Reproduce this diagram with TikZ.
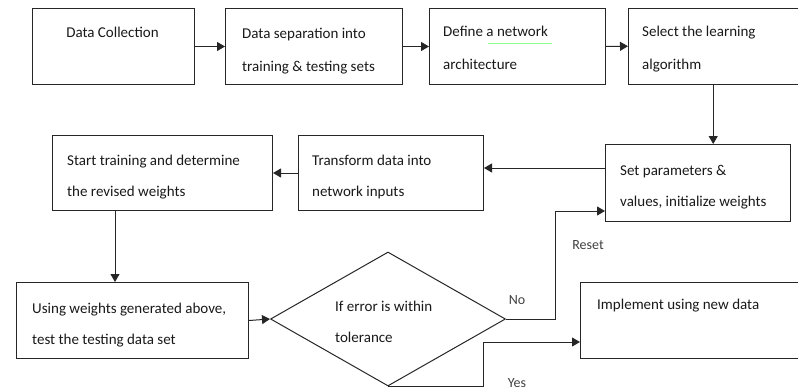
\documentclass[tikz,border=0pt]{standalone}
\usepackage{fontspec}
\setmainfont{Carlito}
\usetikzlibrary{arrows.meta,shapes.geometric}
\begin{document}
\begin{tikzpicture}[x=1pt,y=-1pt,
  box/.style={draw=black!85, line width=1pt, rectangle, inner sep=0pt, anchor=north west},
  openbox/.style={rectangle, inner sep=0pt, anchor=north west},
  edge/.style={draw=black!85, line width=1pt},
  arr/.style={edge, -{Triangle[length=8pt,width=9pt]}},
  txt/.style={anchor=base west, align=left, inner sep=0pt, text=black!90, font=\fontsize{15}{33}\selectfont},
  txtb/.style={txt, font=\fontsize{15}{31}\selectfont},
  lbl/.style={inner sep=0pt, text=black!75, font=\fontsize{14}{16}\selectfont}
]
\useasboundingbox (0,0) rectangle (798,391);

% boxes
\node[box, minimum width=162pt, minimum height=76pt] (b1) at (32,8) {};
\node[box, minimum width=177pt, minimum height=76pt] (b2) at (225,8) {};
\node[box, minimum width=176pt, minimum height=76pt] (b3) at (429,8) {};
\node[openbox, minimum width=170pt, minimum height=76pt] (b4) at (628,8) {};
\draw[edge] (b4.north east) -- (b4.north west) -- (b4.south west) -- (b4.south east);
\node[box, minimum width=185pt, minimum height=77pt] (sp) at (605,144) {};
\node[box, minimum width=185pt, minimum height=75pt] (tf) at (298,135) {};
\node[box, minimum width=220pt, minimum height=75pt] (st) at (52,135) {};
\node[box, minimum width=232pt, minimum height=76pt] (uw) at (16,282) {};
\node[draw=black!85, line width=1pt, diamond, inner sep=0pt, minimum width=235pt, minimum height=134pt] (dm) at (388,319) {};
\node[openbox, minimum width=218pt, minimum height=76pt] (im) at (580,282) {};
\draw[edge] (im.north east) -- (im.north west) -- (im.south west) -- (im.south east);

% texts (multi-line nodes: y = baseline of last line)
\node[txt, anchor=base] (t1) at (112.5,37.5) {Data Collection};
\node[txt] (t2) at (242,71.5) {Data separation into\\training \& testing sets};
\node[txt] (t3) at (443,69.5) {Define a network\\architecture};
\node[txt] (t4) at (642,69.5) {Select the learning\\algorithm};
\node[txtb] (t5) at (620,206.5) {Set parameters \&\\values, initialize weights};
\node[txtb] (t6) at (312,196.5) {Transform data into\\network inputs};
\node[txtb] (t7) at (67,196.5) {Start training and determine\\the revised weights};
\node[txtb] (t8) at (32,344.5) {Using weights generated above,\\test the testing data set};
\node[txtb] (t9) at (335,342.5) {If error is within\\tolerance};
\node[txt] (t10) at (597,309.5) {Implement using new data};
\draw[green!45!white, line width=0.8pt] (488,43) -- (552,43);

% labels
\node[lbl] (lno) at (517,300) {No};
\node[lbl] (lreset) at (588,245) {Reset};
\node[lbl] (lyes) at (517,383) {Yes};

% connectors
\draw[arr] (b1.east) -- (b2.west);
\draw[arr] (b2.east) -- (b3.west);
\draw[arr] (b3.east) -- (b4.west);
\draw[arr] (b4.south) -- (b4.south |- sp.north);
\coordinate (c2) at (0,168);
\draw[arr] (sp.west |- c2) -- (tf.east |- c2);
\draw[arr] (tf.west) -- (st.east);
\coordinate (c1) at (115,0);
\draw[arr] (st.south -| c1) -- (uw.north -| c1);
\draw[arr] (uw.east) -- (dm.west);
\coordinate (nocorner) at (555,211);
\draw[arr] (dm.east) -| (nocorner) -- (nocorner -| sp.west);
\coordinate (yescorner) at (483,342);
\draw[arr] (dm.south) -| (yescorner) -- (yescorner -| im.west);
\end{tikzpicture}
\end{document}
